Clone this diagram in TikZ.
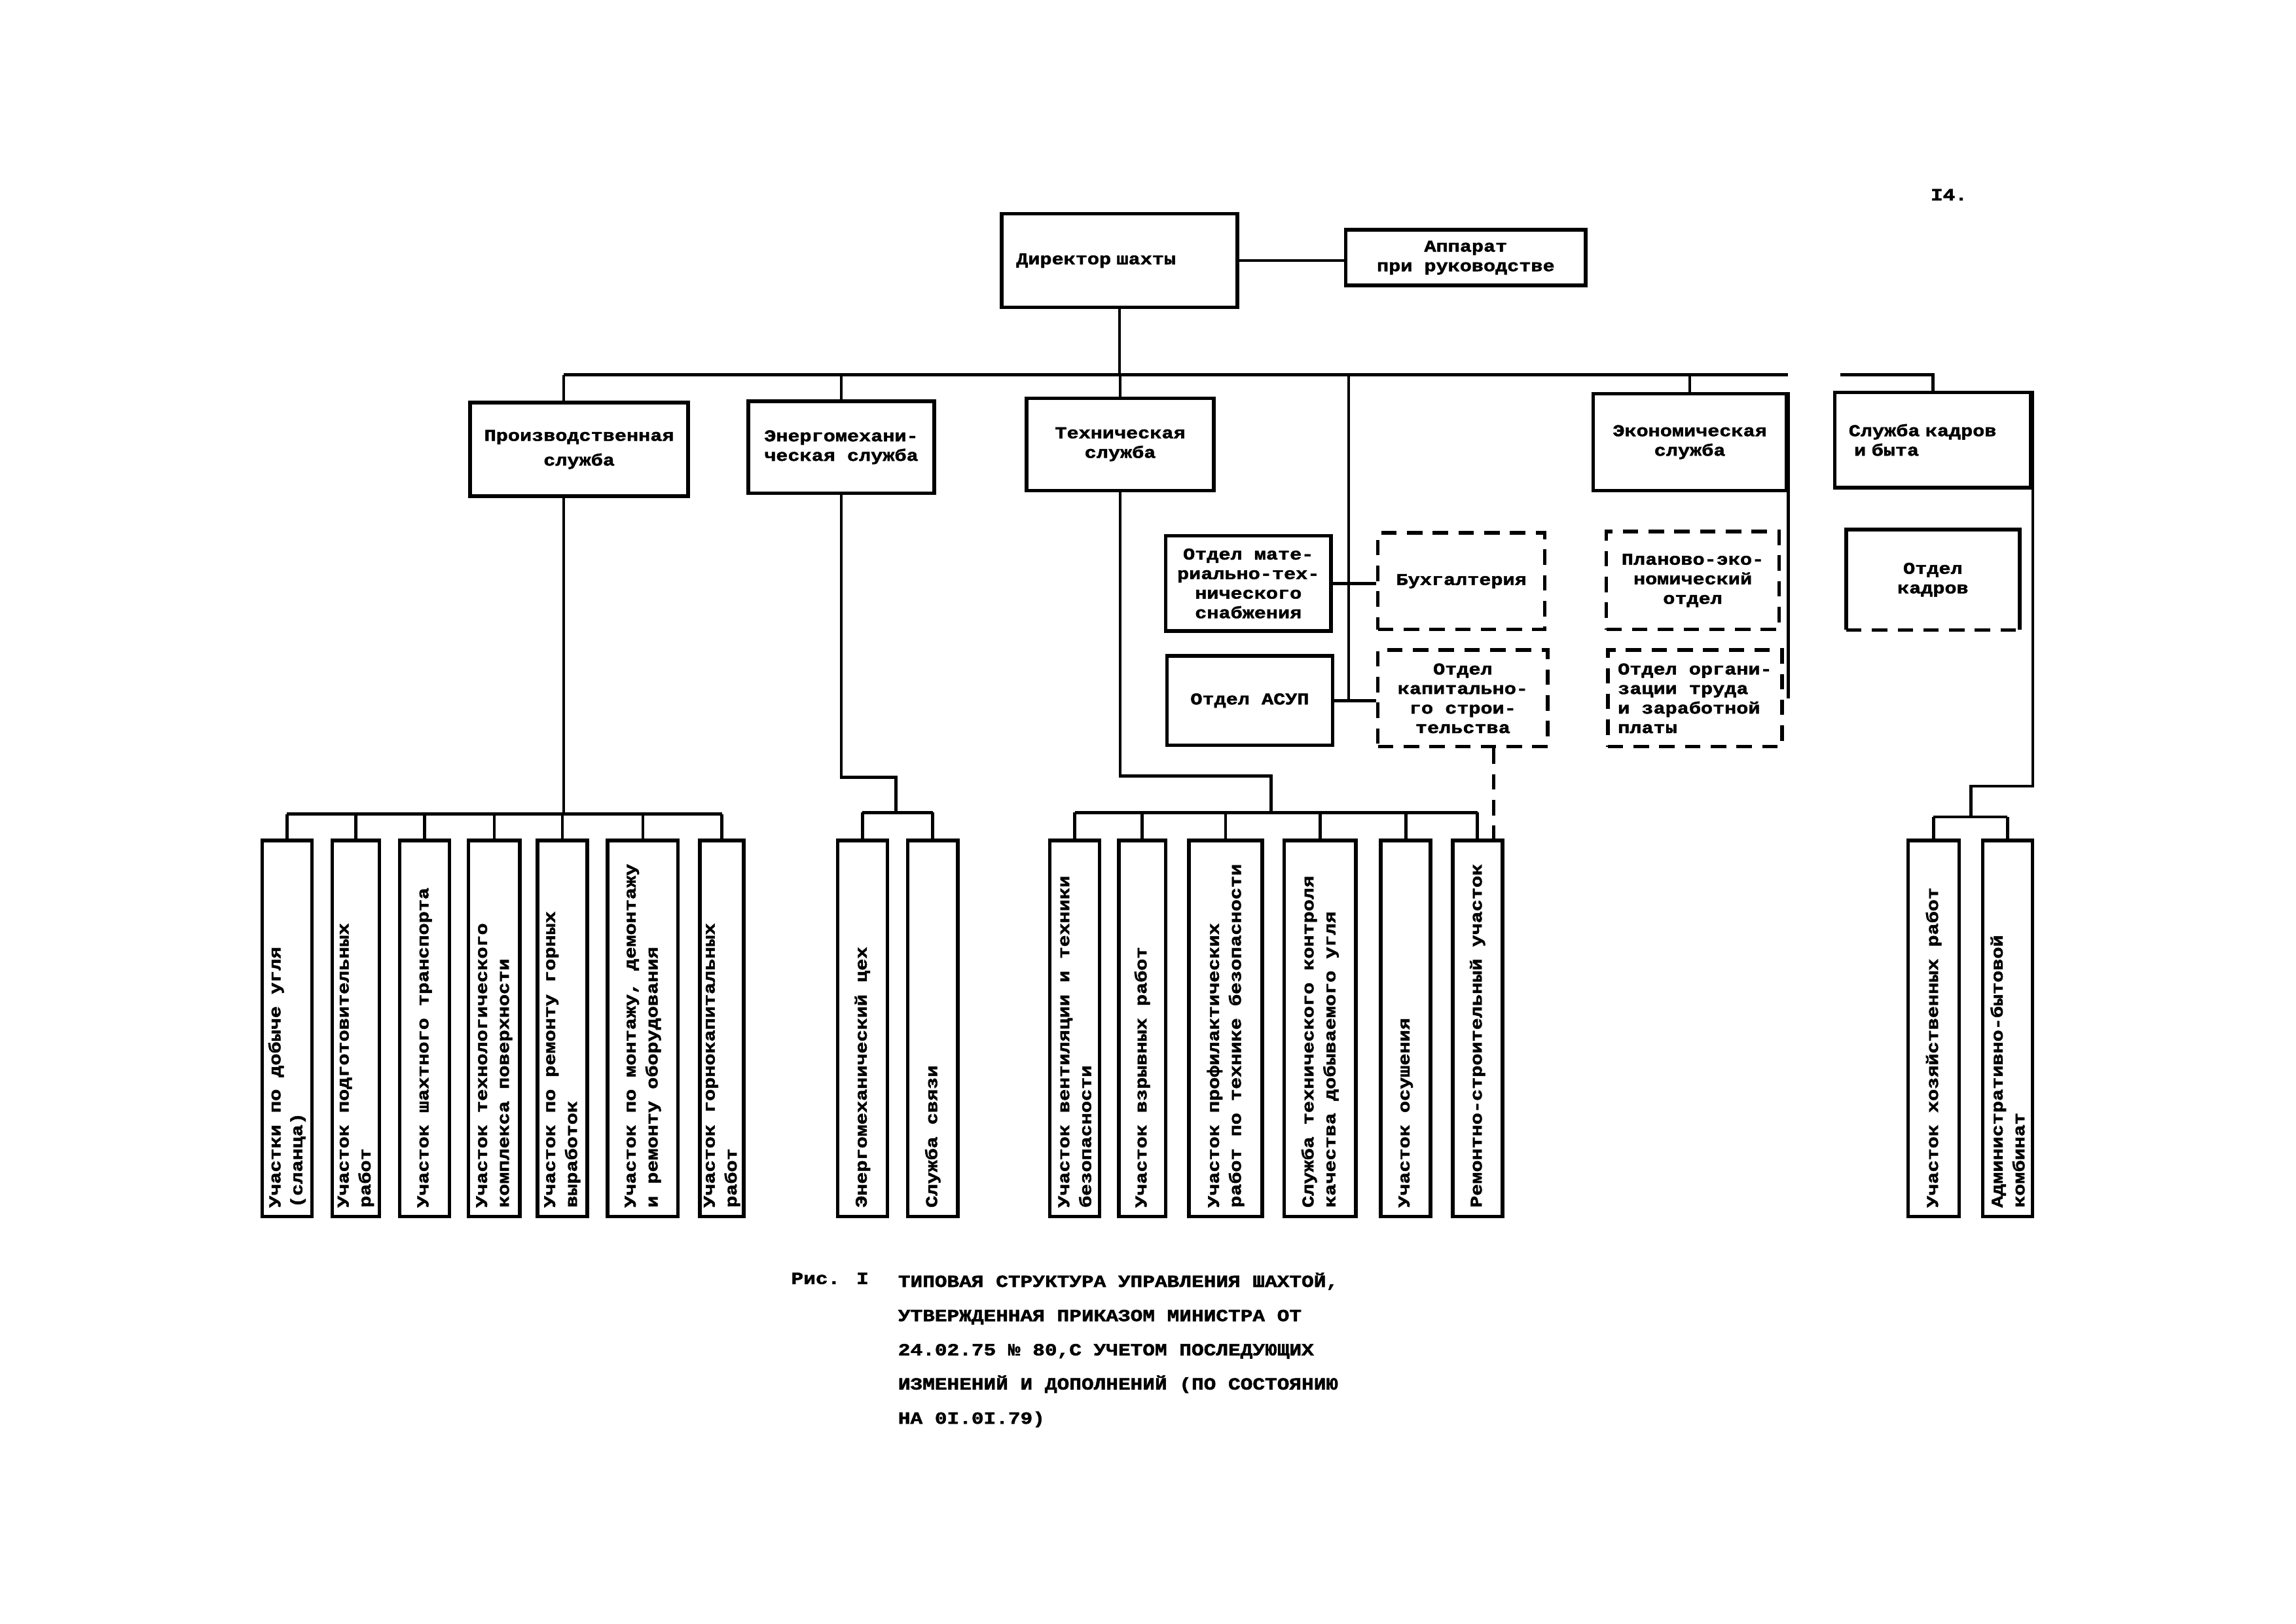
\documentclass[tikz,border=0pt]{standalone}
\usepackage{fontspec}
\newfontfamily\tw{Liberation Mono}[FakeStretch=1.2, BoldFeatures={FakeBold=2}]
\usetikzlibrary{positioning, calc}

\begin{document}
\begin{tikzpicture}[
    x=0.02cm, y=-0.02cm,
    box/.style={draw, line width=1.4pt, inner sep=1pt, align=center, font=\tw\bfseries\fontsize{6.4}{7.6}\selectfont},
    dbox/.style={box, dash pattern=on 6pt off 4pt},
    unit/.style={draw, line width=1.4pt, minimum height=5.14cm, inner sep=0pt},
    utext/.style={rotate=90, anchor=west, align=left, inner sep=0pt, font=\tw\bfseries\fontsize{6.4}{8.5}\selectfont},
    capt/.style={align=left, inner sep=0pt, font=\tw\bfseries\fontsize{6.6}{13.3}\selectfont},
    line/.style={line width=1.2pt},
    dline/.style={line width=1.2pt, dash pattern=on 6pt off 4pt},
]
\useasboundingbox (0,0) rectangle (1568,1109);

% Page number
\node[capt] (page) at (1331,133) {I4.};

% Director and apparatus
\node[box, minimum width=3.22cm, minimum height=1.28cm, text width=2.82cm, align=left] (dir) at (764.5,178) {Директор шахты};
\node[box, minimum width=3.28cm, minimum height=0.76cm] (app) at (1001,176) {Аппарат\\при руководстве};

% Services
\node[box, minimum width=2.98cm, minimum height=1.28cm] (prod) at (395.5,307) {Производственная\\[2pt]служба};
\node[box, minimum width=2.54cm, minimum height=1.26cm] (energ) at (574.5,305.5) {Энергомехани-\\ческая служба};
\node[box, minimum width=2.56cm, minimum height=1.26cm] (tech) at (765,303.5) {Техническая\\служба};
\node[box, minimum width=2.64cm, minimum height=1.32cm] (econ) at (1154,302) {Экономическая\\служба};
\node[box, minimum width=2.68cm, minimum height=1.30cm, text width=2.3cm, align=left] (kadry) at (1320,300.5) {Служба кадров\\~и быта};

% Departments
\node[box, minimum width=2.26cm, minimum height=1.30cm] (mts) at (852.5,398.5) {Отдел мате-\\риально-тех-\\нического\\снабжения};
\node[dbox, minimum width=2.28cm, minimum height=1.32cm] (buh) at (998,397) {Бухгалтерия};
\node[box, minimum width=2.26cm, minimum height=1.22cm] (asup) at (853.5,478.5) {Отдел АСУП};
\node[dbox, minimum width=2.32cm, minimum height=1.32cm] (kap) at (999,477) {Отдел\\капитально-\\го строи-\\тельства};
\node[dbox, minimum width=2.36cm, minimum height=1.34cm] (plan) at (1156,396.5) {Планово-эко-\\номический\\отдел};
\node[dbox, minimum width=2.38cm, minimum height=1.32cm, align=left] (org) at (1157.5,477) {Отдел органи-\\зации труда\\и заработной\\платы};
\node[box, draw=none, minimum width=2.32cm, minimum height=1.32cm] (otk) at (1320,396) {Отдел\\кадров};
\draw[line width=1.4pt] (otk.south west) -- (otk.north west) -- (otk.north east) -- (otk.south east);
\draw[line width=1.4pt, dash pattern=on 6pt off 4pt] (otk.south west) -- (otk.south east);

% Sections along the bottom
\foreach \n/\x/\w/\t in {
    p1/196/0.68cm/{Участки по добыче угля\\(сланца)},
    p2/243/0.64cm/{Участок подготовительных\\работ},
    p3/290/0.68cm/{Участок шахтного транспорта},
    p4/337.5/0.70cm/{Участок технологического\\комплекса поверхности},
    p5/384/0.68cm/{Участок по ремонту горных\\выработок},
    p6/439/0.96cm/{Участок по монтажу, демонтажу\\и ремонту оборудования},
    p7/493/0.60cm/{Участок горнокапитальных\\работ},
    e1/589/0.68cm/{Энергомеханический цех},
    e2/637/0.68cm/{Служба связи},
    t1/734/0.68cm/{Участок вентиляции и техники\\безопасности},
    t2/780/0.64cm/{Участок взрывных работ},
    t3/837/1.00cm/{Участок профилактических\\работ по технике безопасности},
    t4/901.5/0.98cm/{Служба технического контроля\\качества добываемого угля},
    t5/960/0.68cm/{Участок осушения},
    t6/1009/0.68cm/{Ремонтно-строительный участок},
    k1/1320.5/0.70cm/{Участок хозяйственных работ},
    k2/1371/0.68cm/{Административно-бытовой\\комбинат}} {
    \node[unit, minimum width=\w] (\n) at (\x,702.5) {};
    \node[utext] (\n-t) at ([yshift=0.14cm]\n.south) {\t};
}

% Main bus
\coordinate (busL) at (385,256);
\coordinate (busR) at (1221,256);
\draw[line] (dir.east) -- (dir.east -| app.west);
\draw[line] (dir.south) -- (dir.south |- busL);
\draw[line] (busL) -- (busR);
\draw[line] (busL) -- (busL |- prod.north);
\foreach \n in {energ, tech, econ}
    \draw[line] (\n.north |- busL) -- (\n.north);

% Departments links
\coordinate (side) at (921,256);
\draw[line] (side) -- (side |- asup.east);
\draw[line] (mts.east) -- (mts.east -| buh.west);
\draw[line] (asup.east) -- (asup.east -| kap.west);
\draw[line] (econ.north east) -- (econ.north east |- org.east);
\coordinate (kbusA) at (1257,256);
\draw[line] (kbusA) -| (kadry.north);

% Production sections
\coordinate (pbus) at (385,556);
\draw[line] (prod.south -| busL) -- (pbus);
\draw[line] (p1.north |- pbus) -- (p7.north |- pbus);
\foreach \i in {1,...,7}
    \draw[line] (p\i.north |- pbus) -- (p\i.north);

% Energy sections
\coordinate (ebend) at (612,531);
\coordinate (ebus) at (612,555);
\draw[line] (energ.south) |- (ebend) -- (ebus);
\draw[line] (e1.north |- ebus) -- (e2.north |- ebus);
\foreach \i in {1,2}
    \draw[line] (e\i.north |- ebus) -- (e\i.north);

% Technical sections
\coordinate (tbend) at (868,530);
\coordinate (tbus) at (868,555);
\draw[line] (tech.south) |- (tbend) -- (tbus);
\draw[line] (t1.north |- tbus) -- (t6.north |- tbus);
\foreach \i in {1,...,6}
    \draw[line] (t\i.north |- tbus) -- (t\i.north);
\draw[dline] ([xshift=0.42cm]kap.south) -- ([xshift=0.42cm]kap.south |- t6.north);

% Personnel sections
\coordinate (kbend) at (1346,537);
\coordinate (kbus) at (1346,558);
\draw[line] (kadry.north east) |- (kbend) -- (kbus);
\draw[line] (k1.north |- kbus) -- (k2.north |- kbus);
\foreach \i in {1,2}
    \draw[line] (k\i.north |- kbus) -- (k\i.north);

% Caption
\node[capt, anchor=north west] (fig) at (540,869) {Рис. I};
\node[capt, anchor=north west] (title) at (613,869) {ТИПОВАЯ СТРУКТУРА УПРАВЛЕНИЯ ШАХТОЙ,\\УТВЕРЖДЕННАЯ ПРИКАЗОМ МИНИСТРА ОТ\\24.02.75 № 80,С УЧЕТОМ ПОСЛЕДУЮЩИХ\\ИЗМЕНЕНИЙ И ДОПОЛНЕНИЙ (ПО СОСТОЯНИЮ\\НА 0I.0I.79)};

\end{tikzpicture}
\end{document}
